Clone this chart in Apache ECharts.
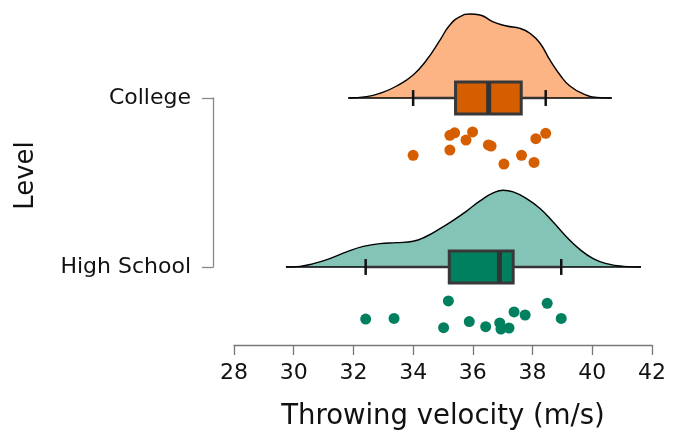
<!DOCTYPE html>
<html>
<head>
<meta charset="utf-8">
<script src="https://cdn.jsdelivr.net/npm/echarts@6/dist/echarts.min.js"></script>
<style>
html,body{margin:0;padding:0;background:#fff;}
#chart{width:680px;height:432px;}
</style>
</head>
<body>
<div id="chart"></div>
<script>
// ---------- data ----------
var levels = ['High School', 'College'];          // y position 0, 1
var xTicks = [28, 30, 32, 34, 36, 38, 40, 42];

// density curves: [velocity, height above the group's baseline]
var collegeDensity = [
  [31.83,0],[32.44,0.008],[32.89,0.028],[33.45,0.071],[34.00,0.136],[34.45,0.225],
  [34.90,0.343],[35.23,0.432],[35.57,0.481],[35.90,0.497],[36.24,0.491],[36.68,0.451],
  [37.13,0.426],[37.58,0.412],[37.91,0.383],[38.25,0.324],[38.58,0.225],[38.92,0.136],
  [39.25,0.071],[39.70,0.024],[40.15,0.004],[40.65,0]
];
var highSchoolDensity = [
  [29.74,0],[30.21,0.004],[30.66,0.020],[31.21,0.050],[31.77,0.089],[32.33,0.122],
  [32.89,0.138],[33.45,0.144],[34.00,0.152],[34.45,0.182],[34.90,0.227],[35.34,0.276],
  [35.79,0.331],[36.24,0.391],[36.68,0.438],[37.02,0.454],[37.35,0.444],[37.80,0.405],
  [38.25,0.346],[38.69,0.266],[39.14,0.178],[39.59,0.103],[40.03,0.050],[40.48,0.020],
  [41.04,0.004],[41.63,0]
];

// box stats: [low whisker, Q1, median, Q3, high whisker]
var collegeBox = [34.00, 35.42, 36.53, 37.62, 38.44];
var highSchoolBox = [32.41, 35.21, 36.89, 37.35, 38.96];

// raw points: [velocity, jittered y position]
var collegePoints = [
  [34.00,0.661],[35.23,0.779],[35.39,0.794],[35.23,0.692],[35.99,0.799],[35.77,0.751],
  [36.52,0.722],[36.61,0.716],[37.04,0.609],[37.63,0.661],[38.05,0.619],[38.11,0.759],[38.44,0.791]
];
var highSchoolPoints = [
  [35.18,-0.201],[32.41,-0.308],[33.36,-0.304],[35.02,-0.359],[35.88,-0.323],[36.43,-0.353],
  [36.90,-0.331],[36.94,-0.367],[37.21,-0.361],[37.38,-0.266],[37.75,-0.284],[38.49,-0.215],[38.96,-0.304]
];

// ---------- chart ----------
var FONT = 'DejaVu Sans';
var C_COL = '#d55e00', C_COL_L = '#fcb485';
var C_HS = '#018060', C_HS_L = '#84c4b7';

function shift(arr, base) {
  return arr.map(function (p) { return [p[0], p[1] + base]; });
}

function boxItem(stats, base, fill) {
  return function (params, api) {
    var halfH = 0.094, capH = 0.047;
    var pLow = api.coord([stats[0], base]);
    var pQ1 = api.coord([stats[1], base]);
    var pMed = api.coord([stats[2], base]);
    var pQ3 = api.coord([stats[3], base]);
    var pHigh = api.coord([stats[4], base]);
    var top = api.coord([stats[1], base + halfH])[1];
    var bot = api.coord([stats[1], base - halfH])[1];
    var capTop = api.coord([stats[0], base + capH])[1];
    var capBot = api.coord([stats[0], base - capH])[1];
    return {
      type: 'group',
      children: [
        {type: 'line', shape: {x1: pLow[0], y1: pLow[1], x2: pQ1[0], y2: pQ1[1]}, style: {stroke: '#333', lineWidth: 2.5}},
        {type: 'line', shape: {x1: pQ3[0], y1: pQ3[1], x2: pHigh[0], y2: pHigh[1]}, style: {stroke: '#333', lineWidth: 2.5}},
        {type: 'line', shape: {x1: pLow[0], y1: capTop, x2: pLow[0], y2: capBot}, style: {stroke: '#111', lineWidth: 2.5}},
        {type: 'line', shape: {x1: pHigh[0], y1: capTop, x2: pHigh[0], y2: capBot}, style: {stroke: '#111', lineWidth: 2.5}},
        {type: 'rect', shape: {x: pQ1[0], y: top, width: pQ3[0] - pQ1[0], height: bot - top}, style: {fill: fill, stroke: '#383838', lineWidth: 3}},
        {type: 'line', shape: {x1: pMed[0], y1: top, x2: pMed[0], y2: bot}, style: {stroke: '#333', lineWidth: 5}}
      ]
    };
  };
}

function densitySeries(arr, base, fill) {
  return {
    type: 'line', data: shift(arr, base), smooth: 0.5, symbol: 'none', clip: false, z: 1,
    lineStyle: {color: '#000', width: 1.4},
    areaStyle: {color: fill, opacity: 1, origin: base},
    silent: true, animation: false
  };
}

function baselineSeries(arr, base) {
  return {
    type: 'line', data: [[arr[0][0], base], [arr[arr.length - 1][0], base]],
    symbol: 'none', clip: false, z: 2, lineStyle: {color: '#000', width: 1.4},
    silent: true, animation: false
  };
}

var chart = echarts.init(document.getElementById('chart'), null, {renderer: 'canvas'});
chart.setOption({
  animation: false,
  backgroundColor: '#fff',
  grid: {left: 234, right: 28, top: 98, bottom: 165, containLabel: false},
  xAxis: {
    type: 'value', min: xTicks[0], max: xTicks[xTicks.length - 1], interval: 2,
    offset: 78,
    axisLine: {show: true, onZero: false, lineStyle: {color: '#777', width: 1.3}},
    axisTick: {show: true, length: 10, lineStyle: {color: '#777', width: 1.3}},
    axisLabel: {fontFamily: FONT, fontSize: 22, color: '#111', margin: 17},
    splitLine: {show: false},
    name: 'Throwing velocity (m/s)', nameLocation: 'middle', nameGap: 58,
    nameTextStyle: {fontFamily: FONT, fontSize: 27.5, color: '#111'}
  },
  yAxis: {
    type: 'value', min: 0, max: 1, interval: 1, offset: 21,
    axisLine: {show: true, onZero: false, lineStyle: {color: '#888', width: 1.3}},
    axisTick: {show: true, length: 11, lineStyle: {color: '#888', width: 1.3}},
    axisLabel: {
      fontFamily: FONT, fontSize: 22, color: '#111', margin: 22,
      formatter: function (v) { return levels[Math.round(v)]; }
    },
    splitLine: {show: false},
    name: 'Level', nameLocation: 'middle', nameRotate: 90, nameGap: 174,
    nameTextStyle: {fontFamily: FONT, fontSize: 26, color: '#111', padding: [0, 0, 0, 14]}
  },
  series: [
    densitySeries(collegeDensity, 1, C_COL_L),
    baselineSeries(collegeDensity, 1),
    densitySeries(highSchoolDensity, 0, C_HS_L),
    baselineSeries(highSchoolDensity, 0),
    {type: 'custom', data: [0], renderItem: boxItem(collegeBox, 1, C_COL), clip: false, z: 3, silent: true},
    {type: 'custom', data: [0], renderItem: boxItem(highSchoolBox, 0, C_HS), clip: false, z: 3, silent: true},
    {type: 'scatter', data: collegePoints, symbolSize: 11, itemStyle: {color: C_COL, opacity: 1}, clip: false, z: 4, silent: true},
    {type: 'scatter', data: highSchoolPoints, symbolSize: 11, itemStyle: {color: C_HS, opacity: 1}, clip: false, z: 4, silent: true}
  ]
});
</script>
</body>
</html>
